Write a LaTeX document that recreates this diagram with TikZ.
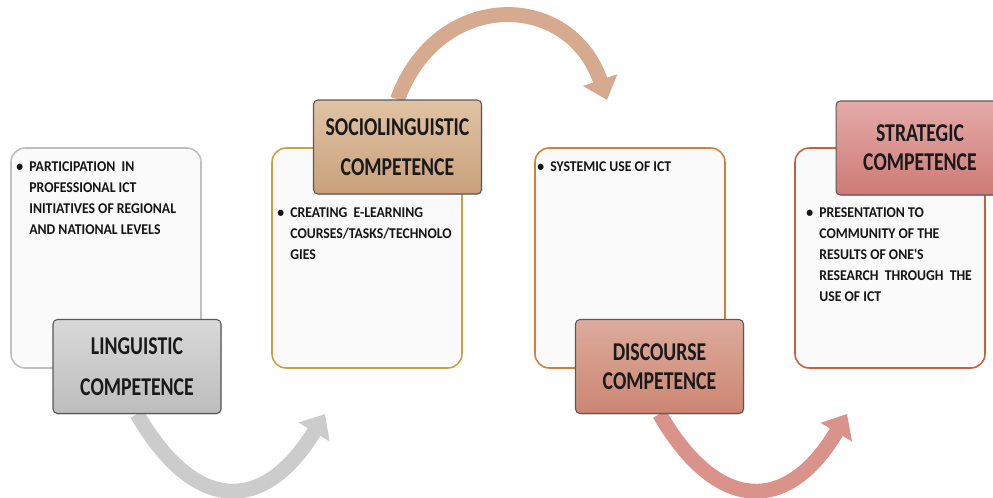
\documentclass[tikz,border=0pt]{standalone}
\usepackage{fontspec}
\setmainfont{Carlito}
\newfontfamily\headfont[FakeStretch=0.77]{Carlito}
\newfontfamily\itemfont[FakeStretch=0.92]{Carlito}
\usepackage{xcolor}
\usetikzlibrary{arrows.meta,shadows,backgrounds}

\definecolor{boxfill}{HTML}{FAFAFA}
\definecolor{edgeLing}{HTML}{BFBFBF}
\definecolor{edgeSoci}{HTML}{C9A045}
\definecolor{edgeDisc}{HTML}{D0803A}
\definecolor{edgeStra}{HTML}{C8603E}
\definecolor{arrowLing}{HTML}{CCCCCC}
\definecolor{arrowSoci}{HTML}{D6AA8E}
\definecolor{arrowDisc}{HTML}{D9938B}

\newcommand{\itemlist}[1]{\begin{tabular}{@{}l@{\hspace{3.5pt}}l@{}}\textbullet & #1\end{tabular}}

\begin{document}
\begin{tikzpicture}[x=0.02cm, y=-0.02cm,
    bodybox/.style={draw=#1, line width=0.9pt, fill=boxfill, rounded corners=8pt, minimum width=3.8cm, minimum height=4.4cm, inner sep=0pt},
    headbox/.style={draw=black!65, line width=0.6pt, rounded corners=2.5pt, minimum width=3.36cm, minimum height=1.88cm, inner sep=0pt, align=center, text=black!90, drop shadow={opacity=0.3, shadow xshift=0.5pt, shadow yshift=-0.7pt}},
    headwide/.style={font=\headfont\bfseries\fontsize{14.6}{23}\selectfont},
    headtight/.style={font=\headfont\bfseries\fontsize{14.6}{16.5}\selectfont},
    itemtext/.style={anchor=north west, inner sep=0pt, text=black!92, font=\itemfont\bfseries\fontsize{8.5}{11.9}\selectfont},
    bendarrow/.style={draw=#1, line width=8.5pt, -{Triangle[length=12pt, width=20pt]}}]
    \useasboundingbox (0,0) rectangle (993,497);

    % Body boxes
    \node[bodybox=edgeLing] (lingBody) at (106,258) {};
    \node[bodybox=edgeSoci] (sociBody) at (367,258) {};
    \node[bodybox=edgeDisc] (discBody) at (630,258) {};
    \node[bodybox=edgeStra] (straBody) at (890,258) {};

    % Headings
    \node[headbox, headwide, top color=black!15, bottom color=black!26] (lingHead) at (137,366.5) {LINGUISTIC\\COMPETENCE};
    \node[headbox, headwide, top color={rgb,255:red,224;green,195;blue,165}, bottom color={rgb,255:red,201;green,160;blue,123}] (sociHead) at (397.5,147) {SOCIOLINGUISTIC\\COMPETENCE};
    \node[headbox, headtight, top color={rgb,255:red,221;green,171;blue,156}, bottom color={rgb,255:red,204;green,134;blue,114}] (discHead) at (659.5,366.5) {DISCOURSE\\COMPETENCE};
    \node[headbox, headtight, top color={rgb,255:red,228;green,171;blue,168}, bottom color={rgb,255:red,206;green,122;blue,117}] (straHead) at (920,148) {STRATEGIC\\COMPETENCE};

    % Items
    \node[itemtext] (lingText) at (16,156.5) {\itemlist{PARTICIPATION\ \ IN\\ & PROFESSIONAL ICT\\ & INITIATIVES OF REGIONAL\\ & AND NATIONAL LEVELS}};
    \node[itemtext] (sociText) at (277,203) {\itemlist{CREATING\ \ E-LEARNING\\ & COURSES/TASKS/TECHNOLO\\ & GIES}};
    \node[itemtext] (discText) at (537,156.5) {\itemlist{SYSTEMIC USE OF ICT}};
    \node[itemtext] (straText) at (806,203) {\itemlist{PRESENTATION TO\\ & COMMUNITY OF THE\\ & RESULTS OF ONE'S\\ & RESEARCH\ \ THROUGH\ \ THE\\ & USE OF ICT}};

    % Arrows
    \coordinate (tipLing) at (325,414);
    \coordinate (tipSoci) at (607,100);
    \coordinate (tipDisc) at (847,414);
    \begin{scope}[on background layer]
        \draw[bendarrow=arrowLing] (lingHead.south) .. controls (195,514) and (264,514) .. (tipLing);
        \draw[bendarrow=arrowSoci] (sociHead.north) .. controls (437.5,-10.5) and (569,-10.5) .. (tipSoci);
        \draw[bendarrow=arrowDisc] (discHead.south) .. controls (717.5,514) and (788,514) .. (tipDisc);
    \end{scope}
\end{tikzpicture}
\end{document}
